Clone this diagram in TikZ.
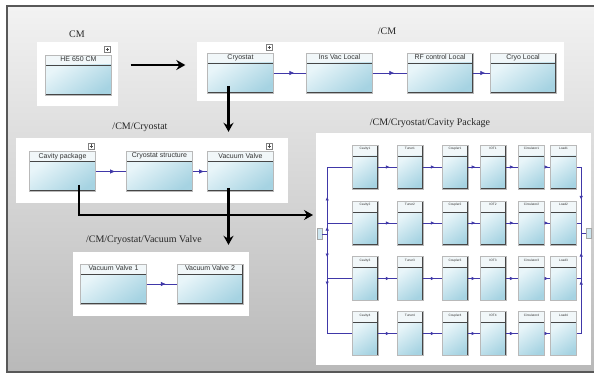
\documentclass[tikz,border=0pt]{standalone}
\usepackage{fontspec}
\setmainfont{Liberation Serif}
\newfontfamily\boxfont{Liberation Sans}
\usetikzlibrary{arrows.meta,decorations.markings,positioning}

\definecolor{flowc}{RGB}{64,56,168}
\definecolor{bodyA}{RGB}{232,245,249}
\definecolor{bodyB}{RGB}{166,211,226}
\definecolor{headc}{RGB}{241,247,249}
\definecolor{edgec}{RGB}{70,70,70}
\definecolor{framec}{RGB}{88,88,88}

\tikzset{
  headh/.store in=\blkhead, headh=10pt,
  blk/.style={rectangle, inner sep=0pt, minimum width=66pt, minimum height=40pt,
    draw=gray!55, line width=0.4pt,
    path picture={
      \fill[headc] (path picture bounding box.north west) rectangle ([yshift=-\blkhead]path picture bounding box.north east);
      \shade[top color=bodyA, bottom color=bodyB, shading angle=35] ([yshift=-\blkhead]path picture bounding box.north west) rectangle (path picture bounding box.south east);
      \draw[edgec, line width=0.9pt] ([yshift=-\blkhead]path picture bounding box.north west) -- ([yshift=-\blkhead]path picture bounding box.north east);
      \draw[edgec, line width=2pt] (path picture bounding box.south west) -- (path picture bounding box.south east) -- (path picture bounding box.north east);
    }},
  cell/.style={blk, minimum width=26pt, minimum height=44pt, headh=11pt},
  boxtxt/.style={anchor=north, inner sep=1.6pt, font=\boxfont\fontsize{7}{8}\selectfont, text=black!80},
  blktext/.style={label={[boxtxt]north:#1}},
  celltext/.style={label={[boxtxt, font=\boxfont\fontsize{3.2}{4}\selectfont, inner sep=2.5pt]north:#1}},
  plusmark/.style={anchor=south east, xshift=-1pt, yshift=2pt, draw=gray, fill=white,
    inner sep=0pt, minimum size=6pt,
    path picture={\draw[black!70, line width=0.5pt]
      ([yshift=-1.2pt]path picture bounding box.north) -- ([yshift=1.2pt]path picture bounding box.south)
      ([xshift=1.2pt]path picture bounding box.west) -- ([xshift=-1.2pt]path picture bounding box.east);}},
  haschild/.style={label={[plusmark]north east:}},
  flowline/.style={draw=flowc, line width=0.7pt},
  flow/.style={flowline, postaction={decorate}, decoration={markings,
    mark=at position #1 with {\arrow{Triangle[length=4.5pt,width=4pt]}}}},
  flow/.default=0.62,
  cellflow/.style={flowline, postaction={decorate}, decoration={markings,
    mark=at position 0.6 with {\arrow{Triangle[length=3.5pt,width=3pt]}}}},
  busflow/.style={flowline, postaction={decorate}, decoration={markings,
    mark=at position #1 with {\arrow{Triangle[length=3.5pt,width=3pt]}}}},
  bigarrow/.style={line width=2.2pt, -{Stealth[length=9pt,width=10pt,inset=3pt]}},
  panel/.style={fill=white},
  paneltitle/.style={font=\fontsize{10}{12}\selectfont, text=black!85, inner sep=1pt},
  portbox/.style={draw=gray!70, fill=bodyA!60!bodyB, inner sep=0pt, minimum width=5pt, minimum height=11pt}
}

\begin{document}
\begin{tikzpicture}[x=1pt, y=-1pt]
  \useasboundingbox (0,0) rectangle (594,374);
  % window background
  \begin{scope}
    \clip (0,0) rectangle (594,374);
    \shade[top color=gray!10, bottom color=gray!55] (7,6) rectangle (600,372);
    \draw[framec, line width=1.5pt] (7,6) rectangle (600,372);
  \end{scope}

  % panels
  \fill[panel] (37,42) rectangle (118,106);
  \fill[panel] (197,42) rectangle (564,101);
  \fill[panel] (16,138) rectangle (288,203);
  \fill[panel] (73,252) rectangle (249,316);
  \fill[panel] (316,133) rectangle (591,365);

  \node[paneltitle] (tCM) at (77,34) {CM};
  \node[paneltitle] (tTop) at (387,31) {/CM};
  \node[paneltitle] (tCryo) at (140,127) {/CM/Cryostat};
  \node[paneltitle] (tVV) at (144,240) {/CM/Cryostat/Vacuum Valve};
  \node[paneltitle] (tCav) at (430,123) {/CM/Cryostat/Cavity Package};

  % CM
  \node[blk, haschild, blktext={HE 650 CM}] (heCM) at (78.5,75) {};

  % /CM
  \node[blk, haschild, blktext=Cryostat] (cryo) at (240.5,73) {};
  \node[blk, blktext={Ins Vac Local}] (insVac) at (339.5,73) {};
  \node[blk, blktext={RF control Local}] (rfLocal) at (440,73) {};
  \node[blk, blktext={Cryo Local}] (cryoLocal) at (523,73) {};
  \draw[flow] (cryo.east) -- (insVac.west);
  \draw[flow] (insVac.east) -- (rfLocal.west);
  \draw[flow=0.7] (rfLocal.east) -- (cryoLocal.west);

  % /CM/Cryostat
  \node[blk, haschild, blktext={Cavity package}] (cavPkg) at (62.5,171.5) {};
  \node[blk, blktext={Cryostat structure}] (cryoStruct) at (159.5,171.5) {};
  \node[blk, haschild, blktext={Vacuum Valve}] (vacValve) at (240.5,171.5) {};
  \draw[flow] (cavPkg.east) -- (cryoStruct.west);
  \draw[flow=0.75] (cryoStruct.east) -- (vacValve.west);

  % /CM/Cryostat/Vacuum Valve
  \node[blk, blktext={Vacuum Valve 1}] (vv1) at (113.5,284) {};
  \node[blk, blktext={Vacuum Valve 2}] (vv2) at (210,284) {};
  \draw[flow] (vv1.east) -- (vv2.west);

  % /CM/Cryostat/Cavity Package
  \foreach \r/\yy in {1/167,2/223,3/278.5,4/333.5}{
    \foreach \n/\xx in {Cavity/365,Tuner/410,Coupler/455,IOT/493,Circulator/531.5,Load/563.5}
      \node[cell, celltext=\n\r] (\n\r) at (\xx,\yy) {};
    \draw[cellflow] (Cavity\r.east) -- (Tuner\r.west);
    \draw[cellflow] (Tuner\r.east) -- (Coupler\r.west);
    \draw[cellflow] (Coupler\r.east) -- (IOT\r.west);
    \draw[cellflow] (IOT\r.east) -- (Circulator\r.west);
    \draw[cellflow] (Circulator\r.east) -- (Load\r.west);
  }
  \node[portbox] (portL) at (319.5,234) {};
  \node[portbox, minimum height=10pt] (portR) at (588.5,233) {};
  \draw[busflow=42pt] (portL.east) -- ++(5,0) |- (Cavity1.west);
  \draw[busflow=12pt] (portL.east) -- ++(5,0) |- (Cavity2.west);
  \draw[busflow=28pt] (portL.east) -- ++(5,0) |- (Cavity3.west);
  \draw[busflow=56pt] (portL.east) -- ++(5,0) |- (Cavity4.west);
  \draw[busflow=37pt] (Load1.east) -- ++(4.5,0) |- (portR.west);
  \draw[flowline] (Load2.east) -- ++(4.5,0) |- (portR.west);
  \draw[busflow=30pt] (Load3.east) -- ++(4.5,0) |- (portR.west);
  \draw[busflow=57pt] (Load4.east) -- ++(4.5,0) |- (portR.west);

  % drill-down arrows
  \coordinate (cavIn) at (313,215);
  \draw[bigarrow] ([shift={(19,-10)}]heCM.east) -- ([shift={(-22,-8)}]cryo.west);
  \draw[bigarrow] ([shift={(-12,13)}]cryo.center) -- ([shift={(-12,-19.5)}]vacValve.north);
  \draw[bigarrow] ([shift={(16.5,13.5)}]cavPkg.center) |- (cavIn);
  \draw[bigarrow] ([shift={(-12,16.5)}]vacValve.center) -- ([shift={(18.5,-19)}]vv2.north);
\end{tikzpicture}
\end{document}
